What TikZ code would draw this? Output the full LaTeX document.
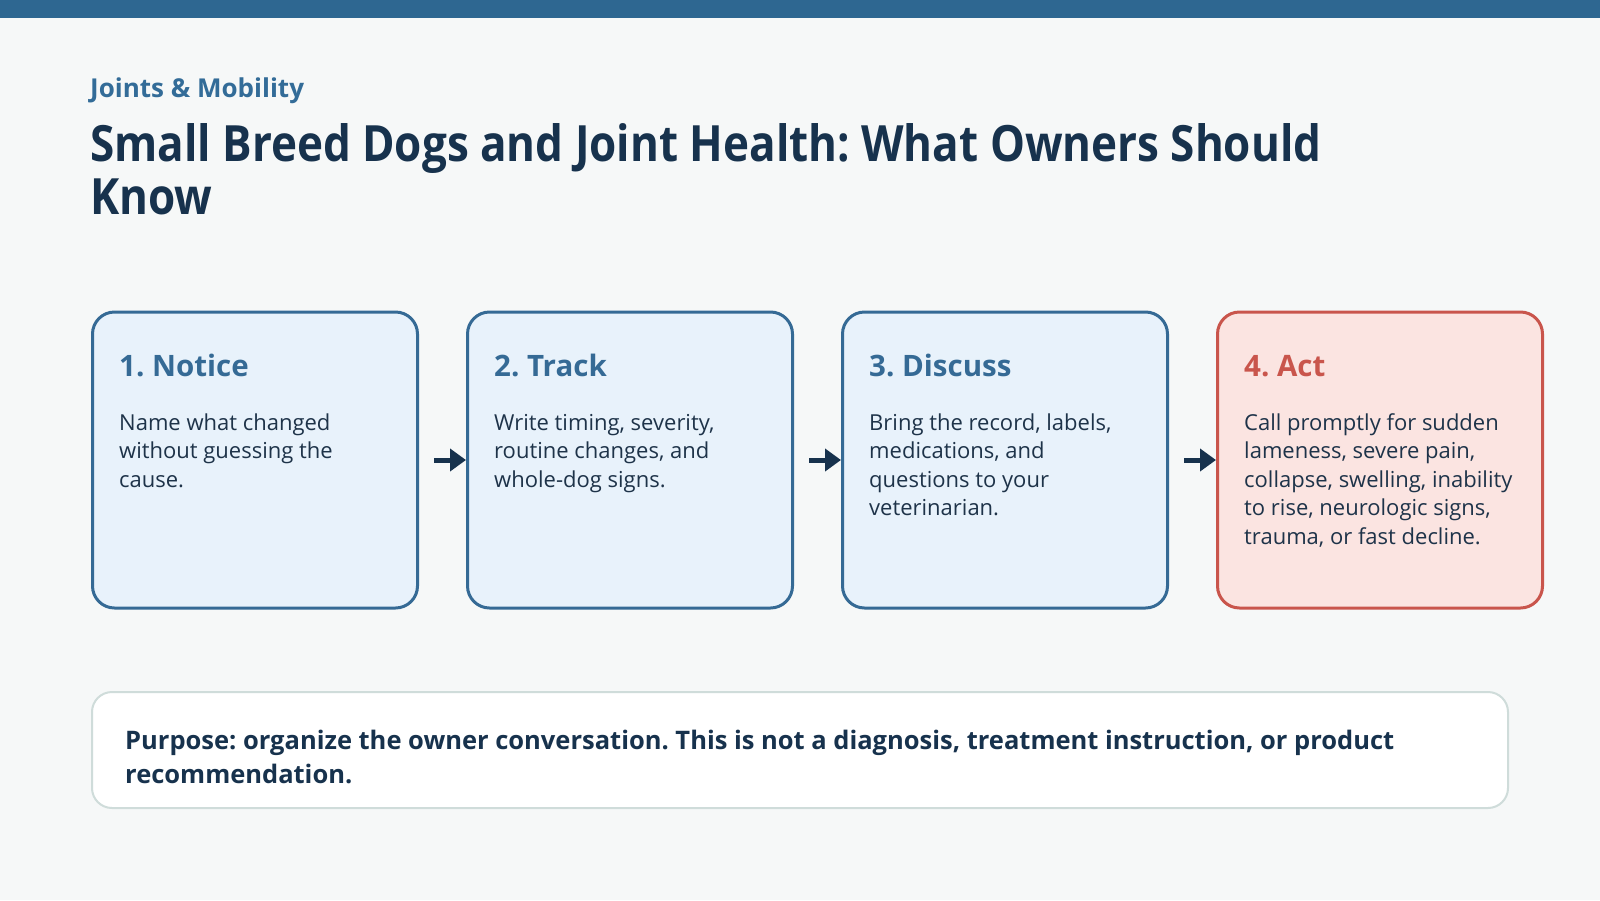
\documentclass[tikz,border=0pt]{standalone}
\usepackage{fontspec}
\setmainfont{Open Sans}
\newfontfamily\titlefont[FakeStretch=0.88]{Open Sans}
\usetikzlibrary{positioning,calc,arrows.meta}

\definecolor{pagebg}{HTML}{F6F8F8}
\definecolor{barblue}{HTML}{2E6791}
\definecolor{kicker}{HTML}{336C98}
\definecolor{titleink}{HTML}{17324D}
\definecolor{bodyink}{HTML}{1E3349}
\definecolor{cardfill}{HTML}{E8F2FB}
\definecolor{cardline}{HTML}{356A95}
\definecolor{actfill}{HTML}{FBE4E1}
\definecolor{actline}{HTML}{C9554C}
\definecolor{noteline}{HTML}{CFDCDA}

\newcommand{\steplines}[1]{\begin{tabular}[t]{@{}l@{}}#1\end{tabular}}
\frenchspacing

\begin{document}
\begin{tikzpicture}[x=1pt,y=-1pt,
  card/.style={draw=cardline, fill=cardfill, line width=3pt, rounded corners=22pt,
    minimum width=325pt, minimum height=296pt, inner sep=0pt},
  actcard/.style={card, draw=actline, fill=actfill},
  cardhead/.style={anchor=base west, inner sep=0pt, font=\fontsize{29.5}{34}\selectfont\bfseries, text=cardline},
  cardtext/.style={anchor=base west, inner sep=0pt,
    font=\fontsize{22}{28.4}\selectfont, text=bodyink},
  flow/.style={-{Triangle[length=16pt,width=22pt]}, line width=5pt, draw=titleink, shorten <=15pt}]

% page and top bar
\fill[pagebg] (0,0) rectangle (1600,900);
\fill[barblue] (0,0) rectangle (1600,18);

% heading
\node[anchor=base west, inner sep=0pt, text=kicker,
  font=\fontsize{26}{30}\selectfont\bfseries] (kick) at (90,97) {Joints \& Mobility};
\node[anchor=base west, inner sep=0pt, text=titleink, align=left,
  font=\titlefont\fontsize{50}{53}\selectfont\bfseries] (title) at (90,214)
  {Small Breed Dogs and Joint Health: What Owners Should\\Know};

% the four steps
\node[card] (notice) at (255,460) {};
\node[card, right=47pt of notice] (track) {};
\node[card, right=47pt of track] (discuss) {};
\node[actcard, right=47pt of discuss] (act) {};

\node[cardhead] at ($(notice.north west)+(28,66)$) {1. Notice};
\node[cardtext] at ($(notice.north west)+(28,120)$)
  {\steplines{Name what changed\\without guessing the\\cause.}};
\node[cardhead] at ($(track.north west)+(28,66)$) {2. Track};
\node[cardtext] at ($(track.north west)+(28,120)$)
  {\steplines{Write timing, severity,\\routine changes, and\\whole-dog signs.}};
\node[cardhead] at ($(discuss.north west)+(28,66)$) {3. Discuss};
\node[cardtext] at ($(discuss.north west)+(28,120)$)
  {\steplines{Bring the record, labels,\\medications, and\\questions to your\\veterinarian.}};
\node[cardhead, text=actline] at ($(act.north west)+(28,66)$) {4. Act};
\node[cardtext] at ($(act.north west)+(28,120)$)
  {\steplines{Call promptly for sudden\\lameness, severe pain,\\collapse, swelling, inability\\to rise, neurologic signs,\\trauma, or fast decline.}};

\draw[flow] (notice) -- (track);
\draw[flow] (track) -- (discuss);
\draw[flow] (discuss) -- (act);

% purpose note
\node[draw=noteline, fill=white, line width=2pt, rounded corners=20pt,
  minimum width=1416pt, minimum height=116pt, inner sep=0pt] (note) at (800,750) {};
\node[anchor=base west, inner sep=0pt, align=left, text=titleink,
  font=\fontsize{25.5}{34}\selectfont\bfseries] at ($(note.north west)+(34,92)$)
  {Purpose: organize the owner conversation. This is not a diagnosis, treatment instruction, or product\\recommendation.};
\end{tikzpicture}
\end{document}
